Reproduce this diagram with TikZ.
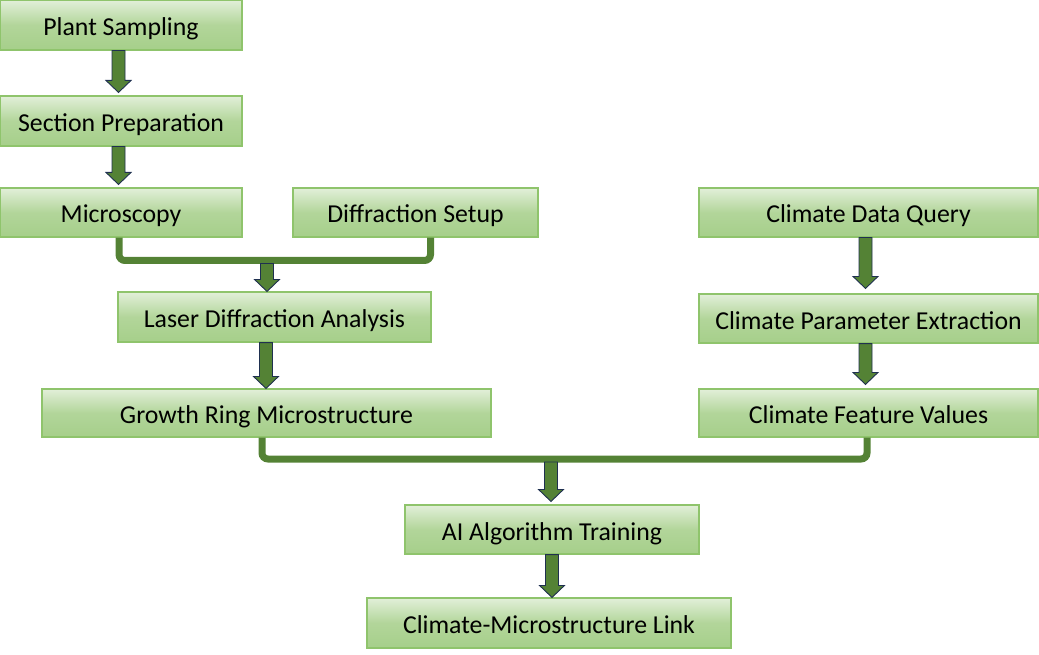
\documentclass[tikz,border=0pt]{standalone}
\usepackage{fontspec}
\setmainfont{Carlito}
\usetikzlibrary{calc}
\definecolor{boxtop}{HTML}{E2EFD9}
\definecolor{boxbot}{HTML}{A6CF8A}
\definecolor{boxline}{HTML}{8FC46C}
\definecolor{linkgreen}{HTML}{548235}
\definecolor{arrowedge}{HTML}{1F3050}
\tikzset{
  stepbox/.style={draw=boxline, line width=1.1pt, top color=boxtop, bottom color=boxbot,
    middle color=boxbot!80!boxtop, shading angle=0,
    inner sep=0pt, text height=21pt, text depth=0pt,
    font=\fontsize{25.8}{30}\selectfont, text=black},
  mergeline/.style={draw=linkgreen, line width=7pt, rounded corners=6pt},
  arrowfill/.style={fill=linkgreen, draw=arrowedge, line width=0.9pt, line join=miter},
}
\newcommand{\blockarrow}[2]{%
  \path let \p1=(#1), \p2=(#2) in [arrowfill]
    (\x1-6.5pt,\y1) -- (\x1+6.5pt,\y1) -- (\x1+6.5pt,\y2+12pt) -- (\x1+12.5pt,\y2+12pt)
    -- (\x1,\y2) -- (\x1-12.5pt,\y2+12pt) -- (\x1-6.5pt,\y2+12pt) -- cycle;}
\begin{document}
\begin{tikzpicture}[x=1pt,y=-1pt]
\useasboundingbox (0,0) rectangle (1039,655);
% boxes
\node[stepbox, minimum width=242, minimum height=50] (plant) at (121,25) {Plant Sampling};
\node[stepbox, minimum width=242, minimum height=50] (section) at (121,121) {Section Preparation};
\node[stepbox, minimum width=242, minimum height=49] (micro) at (121,212.5) {Microscopy};
\node[stepbox, minimum width=245, minimum height=49] (diff) at (415.5,212.5) {Diffraction Setup};
\node[stepbox, minimum width=339, minimum height=49] (cdq) at (868.5,212.5) {Climate Data Query};
\node[stepbox, minimum width=313, minimum height=50] (laser) at (274.5,317) {Laser Diffraction Analysis};
\node[stepbox, minimum width=339, minimum height=49] (cpe) at (868.5,318.5) {Climate Parameter Extraction};
\node[stepbox, minimum width=449, minimum height=48] (growth) at (266.5,413) {Growth Ring Microstructure};
\node[stepbox, minimum width=339, minimum height=48] (cfv) at (868.5,413) {Climate Feature Values};
\node[stepbox, minimum width=294, minimum height=49] (ai) at (552,529.5) {AI Algorithm Training};
\node[stepbox, minimum width=364, minimum height=50] (link) at (549,623) {Climate-Microstructure Link};
% junctions
\coordinate (j1) at (267,260.5);
\coordinate (j2) at (551,459);
% merge lines
\draw[mergeline] ([xshift=-2pt]micro.south) |- (j1) -| ([xshift=15pt]diff.south);
\draw[mergeline] ([xshift=-4.5pt]growth.south) |- (j2) -| ([xshift=-1.5pt]cfv.south);
% block arrows
\blockarrow{[xshift=-2.5pt]plant.south}{[xshift=-2.5pt,yshift=3pt]section.north}
\blockarrow{[xshift=-2.5pt]section.south}{[xshift=-2.5pt,yshift=3pt]micro.north}
\blockarrow{[yshift=-3pt]j1}{j1 |- laser.north}
\blockarrow{[xshift=-8.5pt]laser.south}{[xshift=-0.5pt]growth.north}
\blockarrow{[xshift=-3pt]cdq.south}{[xshift=-3pt,yshift=5pt]cpe.north}
\blockarrow{[xshift=-3pt]cpe.south}{[xshift=-3pt,yshift=4pt]cfv.north}
\blockarrow{[yshift=-3pt]j2}{[yshift=3pt]j2 |- ai.north}
\blockarrow{ai.south}{ai.south |- link.north}
\end{tikzpicture}
\end{document}
